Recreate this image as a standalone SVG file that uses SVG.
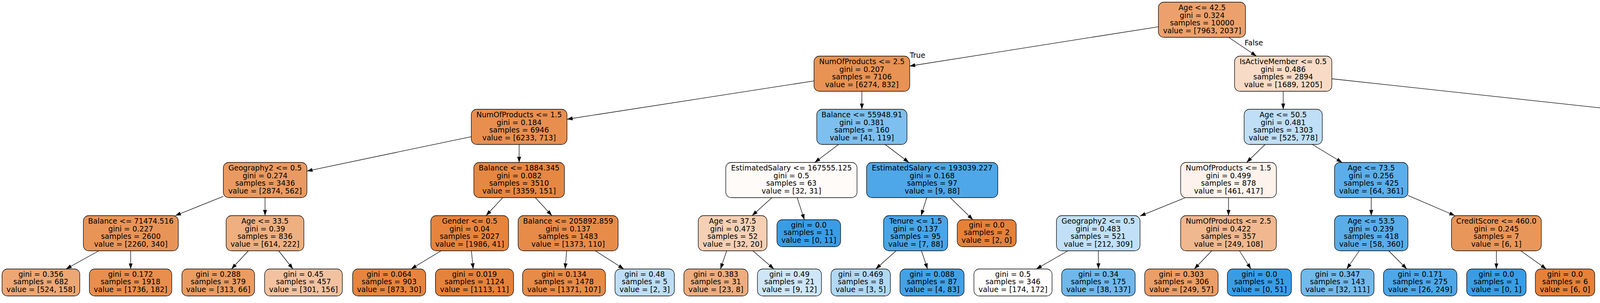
<svg xmlns="http://www.w3.org/2000/svg" width="5689" height="775" viewBox="0 0 5689 775">
<defs>
<marker id="a" markerUnits="userSpaceOnUse" markerWidth="15" markerHeight="11" refX="14.5" refY="5" orient="auto"><path d="M0,0 L14.5,5 L0,10 z" fill="#000"/></marker>
<style>
rect{stroke:#000;stroke-width:1.3}
text{font-family:"DejaVu Sans","Liberation Sans",sans-serif;font-size:18.7px;text-anchor:middle;fill:#000}
#edges line{stroke:#000;stroke-width:1.3;marker-end:url(#a)}
</style>
</defs>
<rect x="0" y="0" width="5689" height="775" fill="#fff" style="stroke:none"/>
<g id="edges">
<line x1="2966.5" y1="68.3" x2="2328.4" y2="169"/>
<line x1="3146.2" y1="96" x2="3216.5" y2="143.5"/>
<line x1="2084.4" y1="206.9" x2="1451.5" y2="305"/>
<line x1="2206.4" y1="233.5" x2="2206.4" y2="279.5"/>
<line x1="3285" y1="233.5" x2="3285" y2="279.5"/>
<line x1="3409.5" y1="201.5" x2="4417.1" y2="310.7"/>
<line x1="1206.5" y1="349.6" x2="785.7" y2="437.6"/>
<line x1="1329" y1="369.5" x2="1329" y2="415.5"/>
<line x1="2146.7" y1="369.5" x2="2085.7" y2="415.5"/>
<line x1="2266" y1="369.5" x2="2326.8" y2="415.5"/>
<line x1="3238.7" y1="369.5" x2="3191.3" y2="415.5"/>
<line x1="3359.6" y1="369.5" x2="3435.8" y2="415.5"/>
<line x1="4539.6" y1="369.5" x2="4539.6" y2="415.5"/>
<line x1="4662.1" y1="353.1" x2="5029.5" y2="440.5"/>
<line x1="571.7" y1="502.3" x2="448.7" y2="551.5"/>
<line x1="678.5" y1="505.5" x2="678.5" y2="551.5"/>
<line x1="1287.1" y1="505.5" x2="1244.3" y2="551.5"/>
<line x1="1370.5" y1="505.5" x2="1412.9" y2="551.5"/>
<line x1="1976.2" y1="505.5" x2="1925.3" y2="551.5"/>
<line x1="2040.7" y1="505.5" x2="2059.2" y2="562"/>
<line x1="2372.4" y1="505.5" x2="2358" y2="551.5"/>
<line x1="2432.6" y1="505.5" x2="2490.6" y2="562"/>
<line x1="3034.7" y1="505.5" x2="2918.5" y2="552.6"/>
<line x1="3145" y1="505.5" x2="3145" y2="551.5"/>
<line x1="3510.4" y1="505.5" x2="3510.4" y2="551.5"/>
<line x1="3604.4" y1="499.9" x2="3724.7" y2="551.5"/>
<line x1="4497.9" y1="505.5" x2="4455.3" y2="551.5"/>
<line x1="4581.6" y1="505.5" x2="4624.6" y2="551.5"/>
<line x1="5111.7" y1="505.5" x2="5111.7" y2="551.5"/>
<line x1="5193.5" y1="494.9" x2="5348.5" y2="560.7"/>
<line x1="253" y1="641.5" x2="169" y2="688"/>
<line x1="334.5" y1="641.5" x2="334.5" y2="688"/>
<line x1="635.8" y1="641.5" x2="592.5" y2="688"/>
<line x1="713.4" y1="641.5" x2="750" y2="688"/>
<line x1="1129.1" y1="641.5" x2="1052.4" y2="688"/>
<line x1="1206.8" y1="641.5" x2="1211.3" y2="688"/>
<line x1="1450.6" y1="641.5" x2="1446.7" y2="688"/>
<line x1="1524.1" y1="641.5" x2="1597" y2="688"/>
<line x1="1860.3" y1="641.5" x2="1844.4" y2="688"/>
<line x1="1927.3" y1="641.5" x2="1981.3" y2="688"/>
<line x1="2294" y1="641.5" x2="2241.8" y2="688"/>
<line x1="2358.9" y1="641.5" x2="2374.5" y2="688"/>
<line x1="2733.9" y1="641.5" x2="2652.8" y2="688"/>
<line x1="2811.7" y1="641.5" x2="2811.9" y2="688"/>
<line x1="3102.1" y1="641.5" x2="3057.3" y2="688"/>
<line x1="3173.1" y1="641.5" x2="3202.5" y2="688"/>
<line x1="3479.7" y1="641.5" x2="3447.6" y2="688"/>
<line x1="3555" y1="641.5" x2="3601.5" y2="688"/>
<line x1="3830.7" y1="641.5" x2="3830.7" y2="688"/>
<line x1="3893.2" y1="641.5" x2="3958.6" y2="688"/>
<line x1="4340" y1="641.5" x2="4263.1" y2="688"/>
<line x1="4419.6" y1="641.5" x2="4425.9" y2="688"/>
<line x1="4660.3" y1="641.5" x2="4653.8" y2="688"/>
<line x1="4735.7" y1="641.5" x2="4807.9" y2="688"/>
<line x1="5093.8" y1="641.5" x2="5074.9" y2="688"/>
<line x1="5160.7" y1="641.5" x2="5211.6" y2="688"/>
<line x1="5431.6" y1="641.5" x2="5431.8" y2="688"/>
<line x1="5494.3" y1="641.5" x2="5559.9" y2="688"/>
<text x="2348.8" y="148.3">True</text>
<text x="3209.7" y="115.5">False</text>
</g>
<g id="R"><rect x="2965.5" y="5.5" width="223" height="90" rx="14" fill="#eca16c"/><text x="3077.5" y="26"><tspan x="3077.5">Age &lt;= 42.5</tspan><tspan x="3077.5" dy="19.6">gini = 0.324</tspan><tspan x="3077.5" dy="19.6">samples = 10000</tspan><tspan x="3077.5" dy="19.6">value = [7963, 2037]</tspan></text></g>
<g id="L1a"><rect x="2083.9" y="143.5" width="245" height="90" rx="14" fill="#e89253"/><text x="2206.4" y="164"><tspan x="2206.4">NumOfProducts &lt;= 2.5</tspan><tspan x="2206.4" dy="19.6">gini = 0.207</tspan><tspan x="2206.4" dy="19.6">samples = 7106</tspan><tspan x="2206.4" dy="19.6">value = [6274, 832]</tspan></text></g>
<g id="L1b"><rect x="3160.5" y="143.5" width="249" height="90" rx="14" fill="#f8dbc6"/><text x="3285" y="164"><tspan x="3285">IsActiveMember &lt;= 0.5</tspan><tspan x="3285" dy="19.6">gini = 0.486</tspan><tspan x="3285" dy="19.6">samples = 2894</tspan><tspan x="3285" dy="19.6">value = [1689, 1205]</tspan></text></g>
<g id="L2a"><rect x="1206.5" y="279.5" width="245" height="90" rx="14" fill="#e88f50"/><text x="1329" y="300"><tspan x="1329">NumOfProducts &lt;= 1.5</tspan><tspan x="1329" dy="19.6">gini = 0.184</tspan><tspan x="1329" dy="19.6">samples = 6946</tspan><tspan x="1329" dy="19.6">value = [6233, 713]</tspan></text></g>
<g id="L2b"><rect x="2090.9" y="279.5" width="231" height="90" rx="14" fill="#7dbfee"/><text x="2206.4" y="300"><tspan x="2206.4">Balance &lt;= 55948.91</tspan><tspan x="2206.4" dy="19.6">gini = 0.381</tspan><tspan x="2206.4" dy="19.6">samples = 160</tspan><tspan x="2206.4" dy="19.6">value = [41, 119]</tspan></text></g>
<g id="L2c"><rect x="3185" y="279.5" width="200" height="90" rx="14" fill="#bfdff7"/><text x="3285" y="300"><tspan x="3285">Age &lt;= 50.5</tspan><tspan x="3285" dy="19.6">gini = 0.481</tspan><tspan x="3285" dy="19.6">samples = 1303</tspan><tspan x="3285" dy="19.6">value = [525, 778]</tspan></text></g>
<g id="L2d"><rect x="4417.1" y="279.5" width="245" height="90" rx="14" fill="#efaf82"/><text x="4539.6" y="300"><tspan x="4539.6">NumOfProducts &lt;= 2.5</tspan><tspan x="4539.6" dy="19.6">gini = 0.393</tspan><tspan x="4539.6" dy="19.6">samples = 1591</tspan><tspan x="4539.6" dy="19.6">value = [1164, 427]</tspan></text></g>
<g id="L3a"><rect x="571.7" y="415.5" width="214" height="90" rx="14" fill="#ea9a60"/><text x="678.7" y="436"><tspan x="678.7">Geography2 &lt;= 0.5</tspan><tspan x="678.7" dy="19.6">gini = 0.274</tspan><tspan x="678.7" dy="19.6">samples = 3436</tspan><tspan x="678.7" dy="19.6">value = [2874, 562]</tspan></text></g>
<g id="L3b"><rect x="1213" y="415.5" width="232" height="90" rx="14" fill="#e68742"/><text x="1329" y="436"><tspan x="1329">Balance &lt;= 1884.345</tspan><tspan x="1329" dy="19.6">gini = 0.082</tspan><tspan x="1329" dy="19.6">samples = 3510</tspan><tspan x="1329" dy="19.6">value = [3359, 151]</tspan></text></g>
<g id="L3c"><rect x="1858" y="415.5" width="336" height="90" rx="14" fill="#fefbf9"/><text x="2026" y="436"><tspan x="2026">EstimatedSalary &lt;= 167555.125</tspan><tspan x="2026" dy="19.6">gini = 0.5</tspan><tspan x="2026" dy="19.6">samples = 63</tspan><tspan x="2026" dy="19.6">value = [32, 31]</tspan></text></g>
<g id="L3d"><rect x="2218.4" y="415.5" width="336" height="90" rx="14" fill="#4da7e8"/><text x="2386.4" y="436"><tspan x="2386.4">EstimatedSalary &lt;= 193039.227</tspan><tspan x="2386.4" dy="19.6">gini = 0.168</tspan><tspan x="2386.4" dy="19.6">samples = 97</tspan><tspan x="2386.4" dy="19.6">value = [9, 88]</tspan></text></g>
<g id="L3e"><rect x="3022.5" y="415.5" width="245" height="90" rx="14" fill="#fdf3ec"/><text x="3145" y="436"><tspan x="3145">NumOfProducts &lt;= 1.5</tspan><tspan x="3145" dy="19.6">gini = 0.499</tspan><tspan x="3145" dy="19.6">samples = 878</tspan><tspan x="3145" dy="19.6">value = [461, 417]</tspan></text></g>
<g id="L3f"><rect x="3416.4" y="415.5" width="188" height="90" rx="14" fill="#5caeea"/><text x="3510.4" y="436"><tspan x="3510.4">Age &lt;= 73.5</tspan><tspan x="3510.4" dy="19.6">gini = 0.256</tspan><tspan x="3510.4" dy="19.6">samples = 425</tspan><tspan x="3510.4" dy="19.6">value = [64, 361]</tspan></text></g>
<g id="L3g"><rect x="4417.1" y="415.5" width="245" height="90" rx="14" fill="#eda877"/><text x="4539.6" y="436"><tspan x="4539.6">NumOfProducts &lt;= 1.5</tspan><tspan x="4539.6" dy="19.6">gini = 0.363</tspan><tspan x="4539.6" dy="19.6">samples = 1521</tspan><tspan x="4539.6" dy="19.6">value = [1159, 362]</tspan></text></g>
<g id="L3h"><rect x="5029.5" y="415.5" width="164" height="90" rx="14" fill="#48a5e7"/><text x="5111.5" y="436"><tspan x="5111.5">Age &lt;= 65.5</tspan><tspan x="5111.5" dy="19.6">gini = 0.133</tspan><tspan x="5111.5" dy="19.6">samples = 70</tspan><tspan x="5111.5" dy="19.6">value = [5, 65]</tspan></text></g>
<g id="L4a"><rect x="213.4" y="551.5" width="243" height="90" rx="14" fill="#e99457"/><text x="334.9" y="572"><tspan x="334.9">Balance &lt;= 71474.516</tspan><tspan x="334.9" dy="19.6">gini = 0.227</tspan><tspan x="334.9" dy="19.6">samples = 2600</tspan><tspan x="334.9" dy="19.6">value = [2260, 340]</tspan></text></g>
<g id="L4b"><rect x="578.9" y="551.5" width="199" height="90" rx="14" fill="#eeaf81"/><text x="678.4" y="572"><tspan x="678.4">Age &lt;= 33.5</tspan><tspan x="678.4" dy="19.6">gini = 0.39</tspan><tspan x="678.4" dy="19.6">samples = 836</tspan><tspan x="678.4" dy="19.6">value = [614, 222]</tspan></text></g>
<g id="L4c"><rect x="1102.9" y="551.5" width="199" height="90" rx="14" fill="#e6843d"/><text x="1202.4" y="572"><tspan x="1202.4">Gender &lt;= 0.5</tspan><tspan x="1202.4" dy="19.6">gini = 0.04</tspan><tspan x="1202.4" dy="19.6">samples = 2027</tspan><tspan x="1202.4" dy="19.6">value = [1986, 41]</tspan></text></g>
<g id="L4d"><rect x="1326.4" y="551.5" width="256" height="90" rx="14" fill="#e78b49"/><text x="1454.4" y="572"><tspan x="1454.4">Balance &lt;= 205892.859</tspan><tspan x="1454.4" dy="19.6">gini = 0.137</tspan><tspan x="1454.4" dy="19.6">samples = 1483</tspan><tspan x="1454.4" dy="19.6">value = [1373, 110]</tspan></text></g>
<g id="L4e"><rect x="1787.5" y="551.5" width="176" height="90" rx="14" fill="#f5d0b5"/><text x="1875.5" y="572"><tspan x="1875.5">Age &lt;= 37.5</tspan><tspan x="1875.5" dy="19.6">gini = 0.473</tspan><tspan x="1875.5" dy="19.6">samples = 52</tspan><tspan x="1875.5" dy="19.6">value = [32, 20]</tspan></text></g>
<g id="L4f"><rect x="1989" y="562" width="163" height="69" rx="14" fill="#399de5"/><text x="2070.5" y="581.8"><tspan x="2070.5">gini = 0.0</tspan><tspan x="2070.5" dy="19.6">samples = 11</tspan><tspan x="2070.5" dy="19.6">value = [0, 11]</tspan></text></g>
<g id="L4g"><rect x="2262" y="551.5" width="164" height="90" rx="14" fill="#49a5e7"/><text x="2344" y="572"><tspan x="2344">Tenure &lt;= 1.5</tspan><tspan x="2344" dy="19.6">gini = 0.137</tspan><tspan x="2344" dy="19.6">samples = 95</tspan><tspan x="2344" dy="19.6">value = [7, 88]</tspan></text></g>
<g id="L4h"><rect x="2450.5" y="562" width="151" height="69" rx="14" fill="#e58139"/><text x="2526" y="581.8"><tspan x="2526">gini = 0.0</tspan><tspan x="2526" dy="19.6">samples = 2</tspan><tspan x="2526" dy="19.6">value = [2, 0]</tspan></text></g>
<g id="L4i"><rect x="2704.5" y="551.5" width="214" height="90" rx="14" fill="#c1e0f7"/><text x="2811.5" y="572"><tspan x="2811.5">Geography2 &lt;= 0.5</tspan><tspan x="2811.5" dy="19.6">gini = 0.483</tspan><tspan x="2811.5" dy="19.6">samples = 521</tspan><tspan x="2811.5" dy="19.6">value = [212, 309]</tspan></text></g>
<g id="L4j"><rect x="3022.5" y="551.5" width="245" height="90" rx="14" fill="#f0b88f"/><text x="3145" y="572"><tspan x="3145">NumOfProducts &lt;= 2.5</tspan><tspan x="3145" dy="19.6">gini = 0.422</tspan><tspan x="3145" dy="19.6">samples = 357</tspan><tspan x="3145" dy="19.6">value = [249, 108]</tspan></text></g>
<g id="L4k"><rect x="3416.4" y="551.5" width="188" height="90" rx="14" fill="#59ade9"/><text x="3510.4" y="572"><tspan x="3510.4">Age &lt;= 53.5</tspan><tspan x="3510.4" dy="19.6">gini = 0.239</tspan><tspan x="3510.4" dy="19.6">samples = 418</tspan><tspan x="3510.4" dy="19.6">value = [58, 360]</tspan></text></g>
<g id="L4l"><rect x="3715.7" y="551.5" width="230" height="90" rx="14" fill="#e9965a"/><text x="3830.7" y="572"><tspan x="3830.7">CreditScore &lt;= 460.0</tspan><tspan x="3830.7" dy="19.6">gini = 0.245</tspan><tspan x="3830.7" dy="19.6">samples = 7</tspan><tspan x="3830.7" dy="19.6">value = [6, 1]</tspan></text></g>
<g id="L4m"><rect x="4306.6" y="551.5" width="214" height="90" rx="14" fill="#f2c19e"/><text x="4413.6" y="572"><tspan x="4413.6">Geography2 &lt;= 0.5</tspan><tspan x="4413.6" dy="19.6">gini = 0.447</tspan><tspan x="4413.6" dy="19.6">samples = 834</tspan><tspan x="4413.6" dy="19.6">value = [553, 281]</tspan></text></g>
<g id="L4n"><rect x="4544.6" y="551.5" width="244" height="90" rx="14" fill="#e89253"/><text x="4666.6" y="572"><tspan x="4666.6">Balance &lt;= 43031.969</tspan><tspan x="4666.6" dy="19.6">gini = 0.208</tspan><tspan x="4666.6" dy="19.6">samples = 687</tspan><tspan x="4666.6" dy="19.6">value = [606, 81]</tspan></text></g>
<g id="L4o"><rect x="4949.9" y="551.5" width="324" height="90" rx="14" fill="#3c9fe5"/><text x="5111.9" y="572"><tspan x="5111.9">EstimatedSalary &lt;= 67063.207</tspan><tspan x="5111.9" dy="19.6">gini = 0.031</tspan><tspan x="5111.9" dy="19.6">samples = 64</tspan><tspan x="5111.9" dy="19.6">value = [1, 63]</tspan></text></g>
<g id="L4p"><rect x="5348.5" y="551.5" width="166" height="90" rx="14" fill="#f2c09c"/><text x="5431.5" y="572"><tspan x="5431.5">Gender &lt;= 0.5</tspan><tspan x="5431.5" dy="19.6">gini = 0.444</tspan><tspan x="5431.5" dy="19.6">samples = 6</tspan><tspan x="5431.5" dy="19.6">value = [4, 2]</tspan></text></g>
<g id="F1"><rect x="5.3" y="688" width="199" height="69" rx="14" fill="#eda775"/><text x="104.8" y="707.8"><tspan x="104.8">gini = 0.356</tspan><tspan x="104.8" dy="19.6">samples = 682</tspan><tspan x="104.8" dy="19.6">value = [524, 158]</tspan></text></g>
<g id="F2"><rect x="228.7" y="688" width="211" height="69" rx="14" fill="#e88e4e"/><text x="334.2" y="707.8"><tspan x="334.2">gini = 0.172</tspan><tspan x="334.2" dy="19.6">samples = 1918</tspan><tspan x="334.2" dy="19.6">value = [1736, 182]</tspan></text></g>
<g id="F3"><rect x="465.7" y="688" width="186" height="69" rx="14" fill="#ea9c63"/><text x="558.7" y="707.8"><tspan x="558.7">gini = 0.288</tspan><tspan x="558.7" dy="19.6">samples = 379</tspan><tspan x="558.7" dy="19.6">value = [313, 66]</tspan></text></g>
<g id="F4"><rect x="677.4" y="688" width="199" height="69" rx="14" fill="#f2c2a0"/><text x="776.9" y="707.8"><tspan x="776.9">gini = 0.45</tspan><tspan x="776.9" dy="19.6">samples = 457</tspan><tspan x="776.9" dy="19.6">value = [301, 156]</tspan></text></g>
<g id="F5"><rect x="902.7" y="688" width="187" height="69" rx="14" fill="#e68540"/><text x="996.2" y="707.8"><tspan x="996.2">gini = 0.064</tspan><tspan x="996.2" dy="19.6">samples = 903</tspan><tspan x="996.2" dy="19.6">value = [873, 30]</tspan></text></g>
<g id="F6"><rect x="1114.7" y="688" width="200" height="69" rx="14" fill="#e5823b"/><text x="1214.7" y="707.8"><tspan x="1214.7">gini = 0.019</tspan><tspan x="1214.7" dy="19.6">samples = 1124</tspan><tspan x="1214.7" dy="19.6">value = [1113, 11]</tspan></text></g>
<g id="F7"><rect x="1337.8" y="688" width="212" height="69" rx="14" fill="#e78b48"/><text x="1443.8" y="707.8"><tspan x="1443.8">gini = 0.134</tspan><tspan x="1443.8" dy="19.6">samples = 1478</tspan><tspan x="1443.8" dy="19.6">value = [1371, 107]</tspan></text></g>
<g id="F8"><rect x="1574.4" y="688" width="152" height="69" rx="14" fill="#bddef6"/><text x="1650.4" y="707.8"><tspan x="1650.4">gini = 0.48</tspan><tspan x="1650.4" dy="19.6">samples = 5</tspan><tspan x="1650.4" dy="19.6">value = [2, 3]</tspan></text></g>
<g id="F9"><rect x="1750.7" y="688" width="164" height="69" rx="14" fill="#eead7e"/><text x="1832.7" y="707.8"><tspan x="1832.7">gini = 0.383</tspan><tspan x="1832.7" dy="19.6">samples = 31</tspan><tspan x="1832.7" dy="19.6">value = [23, 8]</tspan></text></g>
<g id="F10"><rect x="1939" y="688" width="164" height="69" rx="14" fill="#cee6f8"/><text x="2021" y="707.8"><tspan x="2021">gini = 0.49</tspan><tspan x="2021" dy="19.6">samples = 21</tspan><tspan x="2021" dy="19.6">value = [9, 12]</tspan></text></g>
<g id="F11"><rect x="2127.4" y="688" width="152" height="69" rx="14" fill="#b0d8f5"/><text x="2203.4" y="707.8"><tspan x="2203.4">gini = 0.469</tspan><tspan x="2203.4" dy="19.6">samples = 8</tspan><tspan x="2203.4" dy="19.6">value = [3, 5]</tspan></text></g>
<g id="F12"><rect x="2304" y="688" width="164" height="69" rx="14" fill="#43a2e6"/><text x="2386" y="707.8"><tspan x="2386">gini = 0.088</tspan><tspan x="2386" dy="19.6">samples = 87</tspan><tspan x="2386" dy="19.6">value = [4, 83]</tspan></text></g>
<g id="F13"><rect x="2493.3" y="688" width="200" height="69" rx="14" fill="#fffefd"/><text x="2593.3" y="707.8"><tspan x="2593.3">gini = 0.5</tspan><tspan x="2593.3" dy="19.6">samples = 346</tspan><tspan x="2593.3" dy="19.6">value = [174, 172]</tspan></text></g>
<g id="F14"><rect x="2718" y="688" width="188" height="69" rx="14" fill="#70b8ec"/><text x="2812" y="707.8"><tspan x="2812">gini = 0.34</tspan><tspan x="2812" dy="19.6">samples = 175</tspan><tspan x="2812" dy="19.6">value = [38, 137]</tspan></text></g>
<g id="F15"><rect x="2930.4" y="688" width="188" height="69" rx="14" fill="#eb9e66"/><text x="3024.4" y="707.8"><tspan x="3024.4">gini = 0.303</tspan><tspan x="3024.4" dy="19.6">samples = 306</tspan><tspan x="3024.4" dy="19.6">value = [249, 57]</tspan></text></g>
<g id="F16"><rect x="3142" y="688" width="164" height="69" rx="14" fill="#399de5"/><text x="3224" y="707.8"><tspan x="3224">gini = 0.0</tspan><tspan x="3224" dy="19.6">samples = 51</tspan><tspan x="3224" dy="19.6">value = [0, 51]</tspan></text></g>
<g id="F17"><rect x="3330.5" y="688" width="187" height="69" rx="14" fill="#72b9ec"/><text x="3424" y="707.8"><tspan x="3424">gini = 0.347</tspan><tspan x="3424" dy="19.6">samples = 143</tspan><tspan x="3424" dy="19.6">value = [32, 111]</tspan></text></g>
<g id="F18"><rect x="3541.7" y="688" width="188" height="69" rx="14" fill="#4ea7e8"/><text x="3635.7" y="707.8"><tspan x="3635.7">gini = 0.171</tspan><tspan x="3635.7" dy="19.6">samples = 275</tspan><tspan x="3635.7" dy="19.6">value = [26, 249]</tspan></text></g>
<g id="F19"><rect x="3754.7" y="688" width="152" height="69" rx="14" fill="#399de5"/><text x="3830.7" y="707.8"><tspan x="3830.7">gini = 0.0</tspan><tspan x="3830.7" dy="19.6">samples = 1</tspan><tspan x="3830.7" dy="19.6">value = [0, 1]</tspan></text></g>
<g id="F20"><rect x="3930.5" y="688" width="152" height="69" rx="14" fill="#e58139"/><text x="4006.5" y="707.8"><tspan x="4006.5">gini = 0.0</tspan><tspan x="4006.5" dy="19.6">samples = 6</tspan><tspan x="4006.5" dy="19.6">value = [6, 0]</tspan></text></g>
<g id="F21"><rect x="4106.7" y="688" width="200" height="69" rx="14" fill="#eeae80"/><text x="4206.7" y="707.8"><tspan x="4206.7">gini = 0.389</tspan><tspan x="4206.7" dy="19.6">samples = 608</tspan><tspan x="4206.7" dy="19.6">value = [447, 161]</tspan></text></g>
<g id="F22"><rect x="4330.5" y="688" width="200" height="69" rx="14" fill="#e8f4fc"/><text x="4430.5" y="707.8"><tspan x="4430.5">gini = 0.498</tspan><tspan x="4430.5" dy="19.6">samples = 226</tspan><tspan x="4430.5" dy="19.6">value = [106, 120]</tspan></text></g>
<g id="F23"><rect x="4555" y="688" width="188" height="69" rx="14" fill="#e68641"/><text x="4649" y="707.8"><tspan x="4649">gini = 0.075</tspan><tspan x="4649" dy="19.6">samples = 386</tspan><tspan x="4649" dy="19.6">value = [371, 15]</tspan></text></g>
<g id="F24"><rect x="4766.9" y="688" width="188" height="69" rx="14" fill="#eca471"/><text x="4860.9" y="707.8"><tspan x="4860.9">gini = 0.342</tspan><tspan x="4860.9" dy="19.6">samples = 301</tspan><tspan x="4860.9" dy="19.6">value = [235, 66]</tspan></text></g>
<g id="F25"><rect x="4979" y="688" width="164" height="69" rx="14" fill="#48a5e7"/><text x="5061" y="707.8"><tspan x="5061">gini = 0.133</tspan><tspan x="5061" dy="19.6">samples = 14</tspan><tspan x="5061" dy="19.6">value = [1, 13]</tspan></text></g>
<g id="F26"><rect x="5167" y="688" width="164" height="69" rx="14" fill="#399de5"/><text x="5249" y="707.8"><tspan x="5249">gini = 0.0</tspan><tspan x="5249" dy="19.6">samples = 50</tspan><tspan x="5249" dy="19.6">value = [0, 50]</tspan></text></g>
<g id="F27"><rect x="5355.9" y="688" width="152" height="69" rx="14" fill="#9ccef2"/><text x="5431.9" y="707.8"><tspan x="5431.9">gini = 0.444</tspan><tspan x="5431.9" dy="19.6">samples = 3</tspan><tspan x="5431.9" dy="19.6">value = [1, 2]</tspan></text></g>
<g id="F28"><rect x="5532.5" y="688" width="151" height="69" rx="14" fill="#e58139"/><text x="5608" y="707.8"><tspan x="5608">gini = 0.0</tspan><tspan x="5608" dy="19.6">samples = 3</tspan><tspan x="5608" dy="19.6">value = [3, 0]</tspan></text></g>
</svg>
